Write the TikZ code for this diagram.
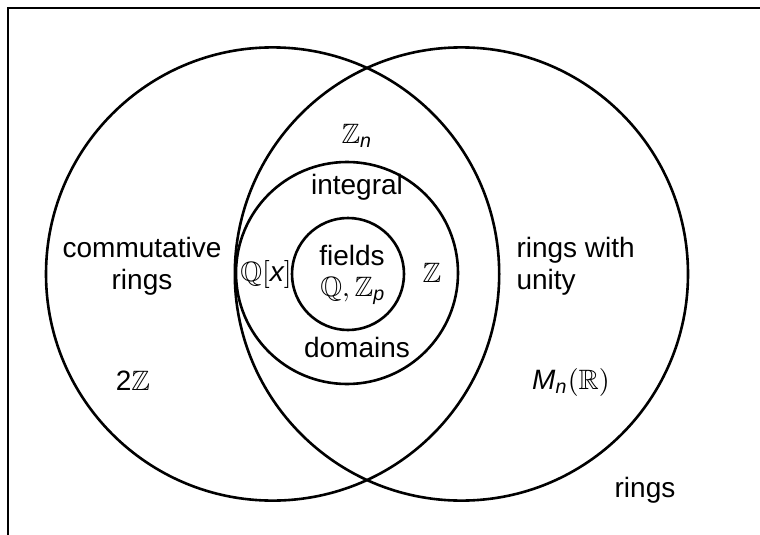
\documentclass[tikz,border=0pt]{standalone}
\usepackage{amsmath}
\usepackage{amssymb}
\usepackage{fontspec}
\setmainfont{Liberation Sans}
\newcommand{\sit}[1]{\text{\itshape #1}}
\begin{document}
\begin{tikzpicture}[x=1pt,y=-1pt,
  ring/.style={draw,line width=2.6pt,circle},
  lbl/.style={font=\fontsize{10}{11.5}\selectfont,scale=2.8,inner sep=0pt,align=center}]
\useasboundingbox (0,0) rectangle (760,535);
\draw[line width=2pt] (8,540) -- (8,8) -- (765,8);
\node[ring,minimum size=453.2pt] (comm) at (272.6,274) {};
\node[ring,minimum size=453.2pt] (unity) at (461.4,274) {};
\node[ring,minimum size=222pt] (integ) at (347,273) {};
\node[ring,minimum size=112pt] (fld) at (348,274) {};
\node[lbl] (t1) at (142,266) {commutative\\rings};
\node[lbl,align=left,anchor=west] (t2) at (516,266) {rings with\\unity};
\node[lbl] (t3) at (357,136) {$\mathbb{Z}_{\sit{n}}$};
\node[lbl] (t4) at (357,187) {integral};
\node[lbl] (t5) at (352,255) {fields};
\node[lbl] (t6) at (353,291) {$\mathbb{Q},\mathbb{Z}_{\sit{p}}$};
\node[lbl] (t7) at (266,274) {$\mathbb{Q}[\sit{x}]$};
\node[lbl] (t8) at (432,273) {$\mathbb{Z}$};
\node[lbl] (t9) at (357,347) {domains};
\node[lbl] (t10) at (133,381) {2$\mathbb{Z}$};
\node[lbl] (t11) at (571,382) {$\sit{M}_{\sit{n}}(\mathbb{R})$};
\node[lbl] (t12) at (645,490) {rings};
\end{tikzpicture}
\end{document}
